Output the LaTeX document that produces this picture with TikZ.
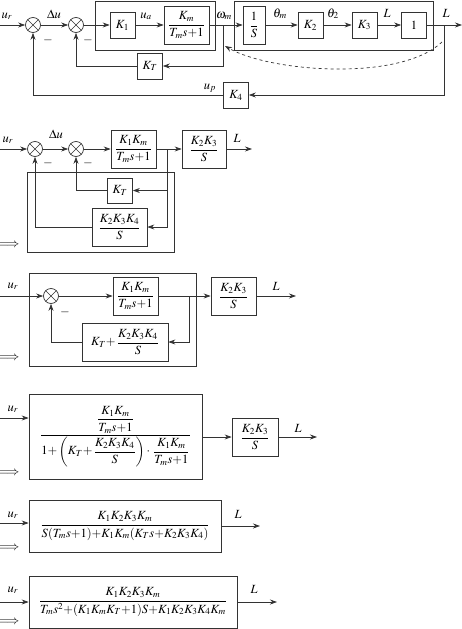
\documentclass[tikz,border=0pt]{standalone}
\usepackage{amsmath}
\usepackage{mathptmx}
\usepackage[no-math]{fontspec}
\setmainfont{Liberation Serif}
\usetikzlibrary{arrows.meta,calc}
\tikzset{
 ln/.style={draw=black!80, line width=0.7pt},
 arr/.style={ln, -{Stealth[length=7pt,width=5pt]}},
 blk/.style={draw=black!80, line width=0.7pt, inner sep=1pt, fill=white},
 sq/.style={blk, minimum width=25pt, minimum height=26pt},
 frame/.style={draw=black!80, line width=0.7pt, inner sep=0pt},
 sumn/.style={circle, draw=black!80, line width=0.7pt, minimum size=15pt, inner sep=0pt,
   path picture={\draw[black!80,line width=0.7pt]
     (path picture bounding box.north west)--(path picture bounding box.south east)
     (path picture bounding box.north east)--(path picture bounding box.south west);}},
 lbl/.style={inner sep=0pt, anchor=base},
 mlbl/.style={inner sep=0pt},
}
\begin{document}
\begin{tikzpicture}[x=1pt,y=-1pt,font=\fontsize{12.5}{15}\selectfont]
\useasboundingbox (0,0) rectangle (462,629);
% ---------- Section 1 ----------
\node[frame, minimum width=120pt, minimum height=49pt] (o1) at (155,25.5) {};
\node[frame, minimum width=199pt, minimum height=49pt] (o2) at (333.5,25.5) {};
\node[sumn] (s1) at (33,25) {};
\node[sumn] (s2) at (76,25) {};
\node[sq] (k1) at (122.5,25) {$K_1$};
\node[blk, minimum width=45pt, minimum height=38pt] (gm) at (186.5,25) {$\dfrac{K_m}{T_m s{+}1}$};
\node[blk, minimum width=22pt, minimum height=38pt] (is) at (254,25) {$\dfrac{1}{S}$};
\node[sq] (k2) at (310.5,25) {$K_2$};
\node[sq] (k3) at (364.5,25) {$K_3$};
\node[sq] (one) at (414,25) {$1$};
\node[sq] (kt) at (150,66) {$K_T$};
\node[sq] (k4) at (236,95) {$K_4$};
\coordinate (in1) at (0,25);
\coordinate (b1) at (223,25);
\coordinate (b2) at (444,25);
\coordinate (out1) at (462,25);
\coordinate (d1) at (442,42);
\coordinate (d2) at (225,46);
\draw[arr] (in1) -- (s1);
\draw[arr] (s1) -- (s2);
\draw[arr] (s2) -- (k1);
\draw[arr] (k1) -- (gm);
\draw[arr] (gm) -- (is);
\draw[arr] (is) -- (k2);
\draw[arr] (k2) -- (k3);
\draw[arr] (k3) -- (one);
\draw[arr] (one) -- (out1);
\draw[arr] (b1) |- (kt);
\draw[arr] (kt) -| (s2);
\draw[arr] (b2) |- (k4);
\draw[arr] (k4) -| (s1);
\draw[arr, dashed] (d1) .. controls (400,82) and (270,72) .. (d2);
\node[lbl] (lur1) at (7,18) {$u_r$};
\node[lbl] (ldu1) at (54,18) {$\Delta u$};
\node[lbl] (lua) at (146,18) {$u_a$};
\node[lbl] (lwm) at (224,18) {$\omega_m$};
\node[lbl] (ltm) at (280,17) {$\theta_m$};
\node[lbl] (lt2) at (333,17) {$\theta_2$};
\node[lbl] (lL1) at (387,17) {$L$};
\node[lbl] (lL2) at (446,17) {$L$};
\node[lbl] (lup) at (210,89) {$u_p$};
\node[mlbl] (m1) at (48,40) {$-$};
\node[mlbl] (m2) at (88,40) {$-$};
% ---------- Section 2 ----------
\node[frame, minimum width=147pt, minimum height=80pt] (o3) at (100.5,212) {};
\node[sumn] (t1) at (35,149) {};
\node[sumn] (t2) at (76,149) {};
\node[blk, minimum width=45pt, minimum height=38pt] (g1b) at (133.5,149) {$\dfrac{K_1K_m}{T_m s{+}1}$};
\node[blk, minimum width=44pt, minimum height=38pt] (g2b) at (204,149) {$\dfrac{K_2K_3}{S}$};
\node[blk, minimum width=25pt, minimum height=25pt] (ktb) at (120,190.5) {$K_T$};
\node[blk, minimum width=55pt, minimum height=38pt] (hb) at (119.5,227) {$\dfrac{K_2K_3K_4}{S}$};
\coordinate (in2) at (0,149);
\coordinate (c1) at (167,149);
\coordinate (out2) at (252,149);
\draw[arr] (in2) -- (t1);
\draw[arr] (t1) -- (t2);
\draw[arr] (t2) -- (g1b);
\draw[arr] (g1b) -- (g2b);
\draw[arr] (g2b) -- (out2);
\draw[arr] (c1) |- (ktb);
\draw[arr] (c1) |- (hb);
\draw[arr] (ktb) -| (t2);
\draw[arr] (hb) -| (t1);
\node[lbl] (lur2) at (8,142) {$u_r$};
\node[lbl] (ldu2) at (56,138) {$\Delta u$};
\node[lbl] (lL3) at (237,142) {$L$};
\node[mlbl] (m3) at (48,163) {$-$};
\node[mlbl] (m4) at (88,163) {$-$};
\node[mlbl, anchor=west] (imp1) at (-1,245) {$\Longrightarrow$};
% ---------- Section 3 ----------
\node[frame, minimum width=167pt, minimum height=93pt] (o4) at (112.5,319.5) {};
\node[sumn] (u1) at (51,296) {};
\node[blk, minimum width=45pt, minimum height=38pt] (g1c) at (135.5,296) {$\dfrac{K_1K_m}{T_m s{+}1}$};
\node[blk, minimum width=45pt, minimum height=38pt] (g2c) at (233.5,296) {$\dfrac{K_2K_3}{S}$};
\node[blk, minimum width=86pt, minimum height=38pt] (hc) at (125,342) {$K_T{+}\,\dfrac{K_2K_3K_4}{S}$};
\coordinate (in3) at (0,296);
\coordinate (c2) at (189,296);
\coordinate (out3) at (296,296);
\draw[arr] (in3) -- (u1);
\draw[arr] (u1) -- (g1c);
\draw[arr] (g1c) -- (g2c);
\draw[arr] (g2c) -- (out3);
\draw[arr] (c2) |- (hc);
\draw[arr] (hc) -| (u1);
\node[lbl] (lur3) at (13,288) {$u_r$};
\node[lbl] (lL4) at (276,290) {$L$};
\node[mlbl] (m5) at (65,312) {$-$};
\node[mlbl, anchor=west] (imp2) at (-1,358) {$\Longrightarrow$};
% ---------- Section 4 ----------
\node[blk, minimum width=173pt, minimum height=85pt] (bb4) at (115.5,436.5)
 {$\dfrac{\dfrac{K_1K_m}{T_m s{+}1}}{1{+}\left(K_T{+}\,\dfrac{K_2K_3K_4}{S}\right)\cdot\,\dfrac{K_1K_m}{T_m s{+}1}}$};
\node[blk, minimum width=46pt, minimum height=38pt] (g2d) at (255,437) {$\dfrac{K_2K_3}{S}$};
\coordinate (in4) at (0,418);
\coordinate (out4) at (317,437);
\draw[arr] (in4) -- (in4 -| bb4.west);
\draw[arr] (bb4.east |- g2d.west) -- (g2d);
\draw[arr] (g2d) -- (out4);
\node[lbl] (lur4) at (13,411) {$u_r$};
\node[lbl] (lL5) at (298,432) {$L$};
\node[mlbl, anchor=west] (imp3) at (-1,473) {$\Longrightarrow$};
% ---------- Section 5 ----------
\node[blk, minimum width=192pt, minimum height=52pt] (bb5) at (125,526)
 {$\dfrac{K_1K_2K_3K_m}{S(T_m s{+}1){+}K_1K_m(K_T s{+}K_2K_3K_4)}$};
\coordinate (in5) at (0,523);
\coordinate (out5) at (260,526);
\draw[arr] (in5) -- (in5 -| bb5.west);
\draw[arr] (bb5) -- (out5);
\node[lbl] (lur5) at (13,517) {$u_r$};
\node[lbl] (lL6) at (238,518) {$L$};
\node[mlbl, anchor=west] (imp4) at (-1,548) {$\Longrightarrow$};
% ---------- Section 6 ----------
\node[blk, minimum width=208pt, minimum height=52pt] (bb6) at (133,602)
 {$\dfrac{K_1K_2K_3K_m}{T_m s^2{+}(K_1K_mK_T{+}1)S{+}K_1K_2K_3K_4K_m}$};
\coordinate (in6) at (0,602);
\coordinate (out6) at (277,602);
\draw[arr] (in6) -- (bb6);
\draw[arr] (bb6) -- (out6);
\node[lbl] (lur6) at (13,592) {$u_r$};
\node[lbl] (lL7) at (254,593) {$L$};
\node[mlbl, anchor=west] (imp5) at (-1,622) {$\Longrightarrow$};
\end{tikzpicture}
\end{document}
